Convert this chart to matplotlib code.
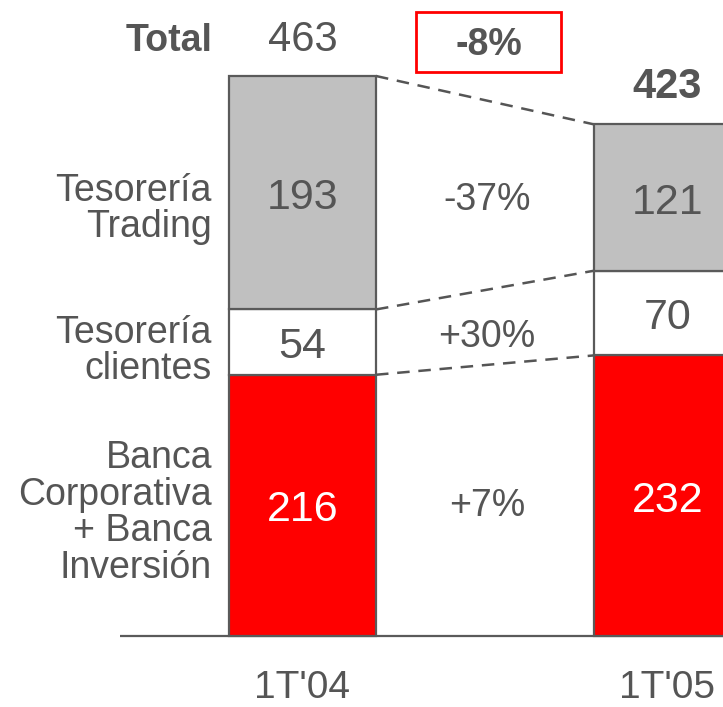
import matplotlib
matplotlib.use("Agg")
import matplotlib.pyplot as plt
from matplotlib.patches import Rectangle

plt.rcParams['font.family'] = ['Liberation Sans', 'DejaVu Sans']

# Data
periods = ["1T'04", "1T'05"]
banca_corp = [216, 232]
tes_clientes = [54, 70]
tes_trading = [193, 121]
totals = [463, 423]
segment_names = ["Banca\nCorporativa\n+ Banca\nInversión", "Tesorería\nclientes", "Tesorería\nTrading"]
changes = ["+7%", "+30%", "-37%"]
total_change = "-8%"

GRAY_TXT = '#555555'
EDGE = '#5a5a5a'
FILLS = ['#ff0000', '#ffffff', '#c0c0c0']
TXT_COLORS = ['#ffffff', GRAY_TXT, GRAY_TXT]

W, H = 723, 707
fig = plt.figure(figsize=(W / 100, H / 100), dpi=100)
ax = fig.add_axes([0, 0, 1, 1])
ax.set_axis_off()

k = 560 / 463.0  # pixels per unit
base_px = 71
ax.set_ylim(-base_px / k, (H - base_px) / k)
xc0 = 302.5
step = 365.0
ax.set_xlim(-xc0 / step, (W - xc0) / step)
width = 147 / step
nudge = 5 / k  # optical centring of numerals

xs = [0, 1]
series = [banca_corp, tes_clientes, tes_trading]
bottoms = [0, 0]
seg_bounds = []
for vals, fc, tc in zip(series, FILLS, TXT_COLORS):
    ax.bar(xs, vals, width=width, bottom=bottoms, color=fc, edgecolor=EDGE,
           linewidth=1.6, zorder=3)
    for x, v, b in zip(xs, vals, bottoms):
        ax.text(x, b + v / 2 - nudge, f"{v}", ha='center', va='center', fontsize=31,
                color=tc, zorder=5)
    bottoms = [b + v for b, v in zip(bottoms, vals)]
    seg_bounds.append(list(bottoms))

# Baseline
ax.plot([-0.5, 1.3], [0, 0], color=EDGE, linewidth=1.6, zorder=2, solid_capstyle='butt')

# Dashed connectors between segment tops
for tops in seg_bounds:
    ax.plot([xs[0] + width / 2, xs[1] - width / 2], [tops[0], tops[1]],
            color=GRAY_TXT, linewidth=1.8, dashes=(5, 3.5), zorder=2)

# Change labels between the bars
prev = [0, 0]
for tops, lbl in zip(seg_bounds, changes):
    ymid = ((prev[0] + tops[0]) / 2 + (prev[1] + tops[1]) / 2) / 2 - nudge
    if lbl == "+30%":
        ymid -= 4
    ax.text(0.5 + 0.005, ymid, lbl, ha='center', va='center', fontsize=27,
            color=GRAY_TXT)
    prev = tops

# Totals
ax.text(xs[0], totals[0] + 29.5, f"{totals[0]}", ha='center', va='center',
        fontsize=30, color=GRAY_TXT)
ax.text(xs[1], totals[1] + 30.5, f"{totals[1]}", ha='center', va='center',
        fontsize=30, color=GRAY_TXT, fontweight='bold')

# Period labels
for x, p in zip(xs, periods):
    ax.text(x, -43, p, ha='center', va='center', fontsize=28, color=GRAY_TXT)

# Left-hand labels
def fy(py):
    return 1 - py / H

fig.text(212 / W, fy(41), "Total", ha='right', va='center', fontsize=27,
         fontweight='bold', color=GRAY_TXT)
label_y = [513, 351, 209]
for name, py in zip(segment_names, label_y):
    fig.text(212 / W, fy(py), name, ha='right', va='center', fontsize=27,
             color=GRAY_TXT, linespacing=1.02)

# Boxed total change
fig.patches.append(Rectangle((416 / W, fy(72)), 145 / W, 60 / H, transform=fig.transFigure,
                             fill=False, edgecolor='#ff0000', linewidth=2))
fig.text(488.5 / W, fy(45), total_change, ha='center', va='center', fontsize=27,
         fontweight='bold', color=GRAY_TXT)

fig.savefig("out.png", dpi=100)
